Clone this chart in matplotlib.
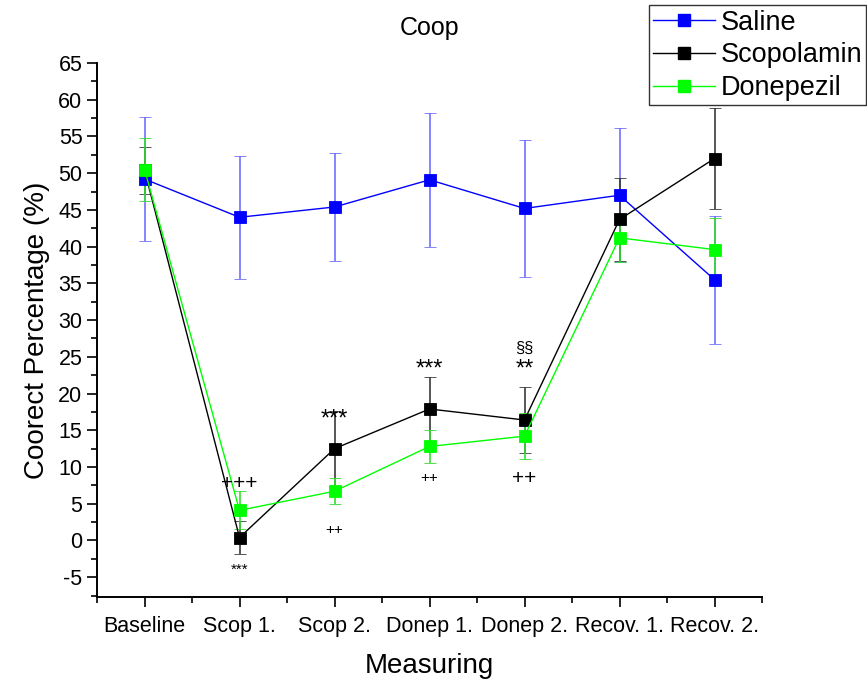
import matplotlib
matplotlib.use("Agg")
import matplotlib.pyplot as plt
from matplotlib.lines import Line2D
import numpy as np

plt.rcParams["font.family"] = ["Liberation Sans", "DejaVu Sans"]
plt.rcParams["axes.unicode_minus"] = False

# measuring points on the x axis
categories = ["Baseline", "Scop 1.", "Scop 2.", "Donep 1.", "Donep 2.", "Recov. 1.", "Recov. 2."]

# group means and error (± SEM)
saline = [49.2, 44.0, 45.4, 49.1, 45.2, 47.0, 35.5]
saline_err = [8.4, 8.4, 7.4, 9.1, 9.3, 9.1, 8.7]
scopolamin = [50.4, 0.4, 12.5, 17.9, 16.4, 43.7, 52.0]
scopolamin_err = [3.2, 2.2, 5.1, 4.3, 4.5, 5.7, 6.9]
donepezil = [50.5, 4.1, 6.7, 12.8, 14.2, 41.2, 39.6]
donepezil_err = [4.3, 2.6, 1.8, 2.3, 3.1, 3.3, 4.3]

# significance marks: (text, x index, y value, fontsize)
marks = [
    ("***", 1, -4.0, 11),
    ("+++", 1, 7.8, 15),
    ("***", 2, 16.4, 17),
    ("++", 2, 1.4, 11),
    ("***", 3, 23.3, 17),
    ("++", 3, 8.5, 11),
    ("**", 4, 23.3, 17),
    ("§§", 4, 26.2, 12),
    ("++", 4, 8.5, 15),
]

series = [
    ("Saline", saline, saline_err, "#0000ff", "#6f6fff"),
    ("Scopolamin", scopolamin, scopolamin_err, "#000000", "#3a3a3a"),
    ("Donepezil", donepezil, donepezil_err, "#00ff00", "#33dd33"),
]

fig = plt.figure(figsize=(8.67, 6.82), dpi=100)
ax = fig.add_axes([0.1119, 0.1246, 0.7670, 0.7830])

x = np.arange(1, len(categories) + 1)
handles = []
for name, vals, err, col, ecol in series:
    ax.errorbar(x, vals, yerr=err, color=col, ecolor=ecol, linewidth=1.0,
                elinewidth=1.2, capsize=4.5, capthick=1.2,
                marker="s", markersize=9, markeredgewidth=0.6,
                markeredgecolor=col)
    handles.append(Line2D([], [], color=col, linewidth=1.0, marker="s",
                          markersize=9, markeredgecolor=col))

for txt, i, y, fs in marks:
    ax.text(x[i], y, txt, ha="center", va="center", fontsize=fs)

ax.set_xlim(0.5, 7.5)
ax.set_ylim(-7.7, 65)
ax.set_xticks(x)
ax.set_xticklabels(categories)
ax.set_xticks(np.arange(0.5, 7.6, 1.0), minor=True)
ax.set_yticks(np.arange(-5, 66, 5))
ax.set_yticks(np.arange(-7.5, 65, 2.5), minor=True)
ax.tick_params(axis="both", which="major", direction="out", length=7, width=1.2,
               labelsize=15.5)
ax.tick_params(axis="both", which="minor", direction="out", length=4, width=1.2)
ax.tick_params(axis="x", pad=7)
for side in ("top", "right"):
    ax.spines[side].set_visible(False)
for side in ("left", "bottom"):
    ax.spines[side].set_linewidth(1.4)

ax.set_title("Coop", fontsize=18, pad=20)
ax.set_xlabel("Measuring", fontsize=20, labelpad=11)
ax.set_ylabel("Coorect Percentage (%)", fontsize=20, labelpad=6)

leg = fig.legend(handles=handles, labels=[s[0] for s in series],
                 loc="upper left", bbox_to_anchor=(0.7486, 0.992),
                 fontsize=19.5, frameon=True, fancybox=False, edgecolor="black",
                 handlelength=2.3, handletextpad=0.2, borderpad=0.15,
                 labelspacing=0.25, borderaxespad=0)
leg.get_frame().set_linewidth(1.0)

fig.savefig("out.png", dpi=100)
